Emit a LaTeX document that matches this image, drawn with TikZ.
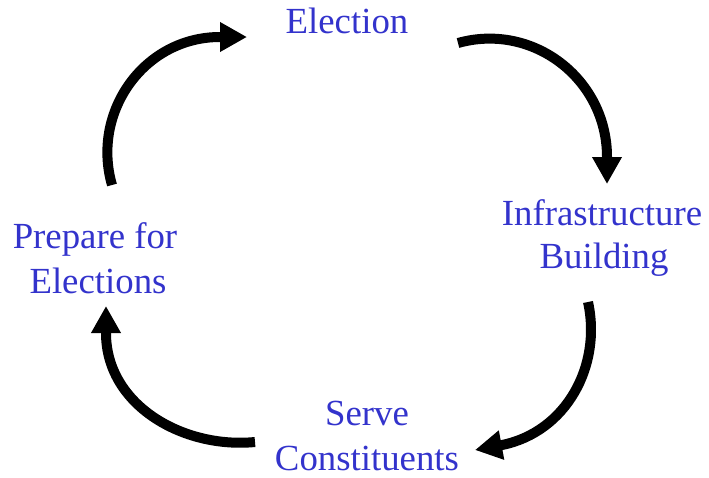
\documentclass[tikz,border=0pt]{standalone}
\usepackage{fontspec}
\setmainfont{Liberation Serif}
\usetikzlibrary{arrows.meta}
\definecolor{labelblue}{RGB}{51,51,204}
\begin{document}
\begin{tikzpicture}[x=1pt,y=-1pt,
  lbl/.style={inner sep=0pt, anchor=base, text=labelblue, font=\fontsize{36.8}{44}\selectfont},
  cyc/.style={line width=10pt, -{Triangle[length=27pt,width=28pt]}}]
\useasboundingbox (0,0) rectangle (709,477);
% labels
\node[lbl] (election) at (347,33) {Election};
\node[lbl] (infra1) at (602,225) {Infrastructure};
\node[lbl] (infra2) at (604,268) {Building};
\node[lbl] (serve1) at (367,425) {Serve};
\node[lbl] (serve2) at (367,470) {Constituents};
\node[lbl] (prep1) at (95,248) {Prepare for};
\node[lbl] (prep2) at (98,293) {Elections};
% arrow end points
\coordinate (a1s) at (112,185);
\coordinate (a1b) at (220,37);
\coordinate (a1t) at (247,37);
\coordinate (a2s) at (458,43);
\coordinate (a2b) at (607,157);
\coordinate (a2t) at (607,184);
\coordinate (a3s) at (588,302);
\coordinate (a3b) at (502,445);
\coordinate (a3t) at (475,450);
\coordinate (a4s) at (255,442);
\coordinate (a4b) at (106,333);
\coordinate (a4t) at (106,306);
% arrows
\draw[cyc] (a1s) .. controls (91,112) and (144,37) .. (a1b) -- (a1t);
\draw[cyc] (a2s) .. controls (533,22) and (607,79) .. (a2b) -- (a2t);
\draw[cyc] (a3s) .. controls (602,366) and (566,432) .. (a3b) -- (a3t);
\draw[cyc] (a4s) .. controls (183,449) and (106,405) .. (a4b) -- (a4t);
\end{tikzpicture}
\end{document}
